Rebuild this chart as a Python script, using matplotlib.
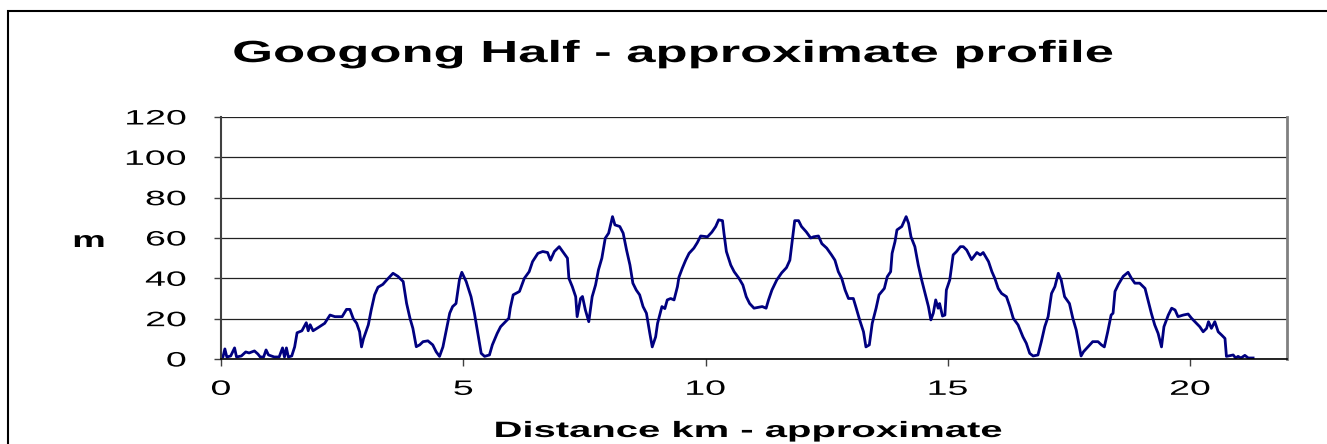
import numpy as np
import matplotlib
matplotlib.use("Agg")
import matplotlib.pyplot as plt
from matplotlib.patches import Rectangle
from matplotlib.patheffects import AbstractPathEffect
from matplotlib.transforms import Affine2D

plt.rcParams['font.family'] = ['Liberation Sans', 'DejaVu Sans']

# course profile
dist_km = [0.00, 0.04, 0.08, 0.12, 0.20, 0.28, 0.32, 0.42, 0.51, 0.58, 0.69, 0.76, 0.81, 0.88,
           0.93, 0.98, 1.10, 1.20, 1.27, 1.31, 1.35, 1.39, 1.46, 1.52, 1.57, 1.67, 1.76, 1.80,
           1.84, 1.90, 2.00, 2.14, 2.25, 2.35, 2.50, 2.59, 2.66, 2.73, 2.80, 2.86, 2.90, 2.94,
           3.04, 3.10, 3.17, 3.24, 3.34, 3.44, 3.55, 3.65, 3.76, 3.83, 3.90, 3.96, 4.03, 4.10,
           4.17, 4.27, 4.37, 4.44, 4.51, 4.58, 4.65, 4.72, 4.78, 4.85, 4.92, 4.97, 5.06, 5.16,
           5.23, 5.30, 5.37, 5.44, 5.54, 5.60, 5.70, 5.77, 5.87, 5.94, 5.97, 6.03, 6.16, 6.26,
           6.36, 6.43, 6.54, 6.64, 6.74, 6.80, 6.88, 6.98, 7.08, 7.15, 7.18, 7.25, 7.32, 7.35,
           7.42, 7.46, 7.52, 7.59, 7.66, 7.73, 7.79, 7.86, 7.93, 8.00, 8.08, 8.13, 8.23, 8.30,
           8.37, 8.44, 8.50, 8.57, 8.64, 8.71, 8.78, 8.85, 8.90, 8.97, 9.01, 9.10, 9.16, 9.21,
           9.28, 9.35, 9.42, 9.45, 9.52, 9.59, 9.66, 9.76, 9.83, 9.90, 10.04, 10.13, 10.21, 10.27,
           10.35, 10.38, 10.43, 10.52, 10.59, 10.69, 10.77, 10.84, 10.91, 11.00, 11.17, 11.25,
           11.30, 11.37, 11.47, 11.57, 11.67, 11.74, 11.79, 11.84, 11.92, 11.98, 12.08, 12.17,
           12.23, 12.33, 12.40, 12.50, 12.60, 12.67, 12.74, 12.81, 12.88, 12.95, 13.05, 13.11,
           13.18, 13.26, 13.31, 13.38, 13.44, 13.52, 13.58, 13.69, 13.75, 13.82, 13.85, 13.91,
           13.95, 14.05, 14.14, 14.19, 14.24, 14.32, 14.39, 14.46, 14.53, 14.60, 14.65, 14.70,
           14.75, 14.80, 14.83, 14.89, 14.94, 14.97, 15.04, 15.11, 15.18, 15.26, 15.32, 15.39,
           15.49, 15.60, 15.67, 15.73, 15.84, 15.91, 15.97, 16.04, 16.11, 16.21, 16.28, 16.35,
           16.45, 16.55, 16.62, 16.69, 16.76, 16.86, 16.93, 17.00, 17.07, 17.14, 17.21, 17.28,
           17.34, 17.41, 17.51, 17.58, 17.65, 17.70, 17.75, 17.80, 17.89, 17.99, 18.10, 18.17,
           18.23, 18.30, 18.37, 18.41, 18.45, 18.52, 18.62, 18.72, 18.79, 18.86, 18.96, 19.07,
           19.13, 19.20, 19.27, 19.34, 19.41, 19.46, 19.55, 19.62, 19.69, 19.75, 19.86, 19.96,
           20.03, 20.10, 20.20, 20.27, 20.34, 20.38, 20.44, 20.51, 20.58, 20.65, 20.72, 20.75,
           20.89, 20.94, 20.99, 21.05, 21.13, 21.20, 21.30]
elev_m = [1.0, 1.0, 5.0, 1.0, 1.5, 5.5, 1.0, 1.5, 3.5, 3.0, 4.0, 2.5, 1.0, 1.0,
          4.5, 2.0, 1.0, 1.0, 5.5, 1.0, 5.5, 1.0, 1.5, 6.0, 13.0, 14.0, 18.0, 14.0,
          17.0, 14.0, 15.5, 17.7, 21.8, 21.0, 21.0, 24.6, 24.6, 20.0, 17.7, 13.5, 6.0, 10.0,
          16.9, 24.3, 31.8, 35.6, 37.0, 39.7, 42.5, 41.0, 38.4, 27.6, 20.2, 15.2, 6.1, 7.0,
          8.6, 9.0, 7.0, 3.6, 1.3, 6.0, 14.4, 22.7, 26.0, 27.5, 39.2, 43.0, 38.4, 30.9,
          22.7, 12.7, 2.8, 1.3, 2.0, 7.0, 12.7, 16.0, 18.5, 20.2, 25.2, 31.8, 33.5, 40.0,
          43.3, 48.3, 52.4, 53.3, 52.8, 49.0, 53.3, 55.7, 52.4, 50.0, 40.0, 35.9, 30.9, 21.0,
          30.0, 31.0, 24.3, 18.5, 30.9, 36.7, 44.2, 50.0, 59.9, 62.4, 70.6, 66.5, 65.7, 62.4,
          54.0, 46.6, 37.6, 34.2, 31.8, 26.0, 22.7, 12.7, 6.0, 11.0, 17.7, 26.0, 25.0, 29.3,
          30.0, 29.3, 35.9, 40.5, 45.0, 49.0, 52.4, 55.0, 57.7, 61.0, 60.6, 62.9, 65.7, 69.0,
          68.6, 62.4, 53.3, 46.6, 43.3, 40.0, 36.7, 30.9, 27.5, 25.2, 26.0, 25.2,
          29.3, 34.2, 39.2, 42.7, 45.3, 49.0, 59.0, 68.6, 68.6, 65.7, 63.0, 60.0,
          60.6, 61.0, 57.2, 55.0, 51.6, 49.0, 43.3, 40.0, 34.2, 30.0, 30.0, 25.2,
          19.4, 13.5, 6.0, 7.0, 17.7, 25.2, 31.8, 35.0, 40.8, 43.3, 52.4, 58.2,
          64.0, 65.7, 70.6, 67.3, 60.6, 55.7, 46.6, 39.2, 32.5, 26.0, 19.4, 22.7,
          29.3, 25.2, 27.5, 21.3, 21.8, 34.2, 39.2, 51.6, 53.3, 55.7, 55.7, 54.0,
          49.3, 52.8, 51.6, 52.8, 48.3, 43.3, 40.0, 35.0, 32.5, 30.9, 26.0, 20.2,
          16.9, 11.0, 7.8, 2.8, 1.5, 2.0, 8.6, 16.0, 21.0, 32.5, 35.9, 42.5,
          39.2, 30.9, 27.5, 20.2, 14.4, 7.8, 1.5, 3.6, 6.0, 8.6, 8.6, 7.0,
          6.0, 13.5, 21.8, 22.7, 33.5, 37.0, 41.0, 43.0, 40.0, 37.6, 37.6, 35.0,
          29.3, 22.7, 16.9, 12.7, 6.0, 16.0, 21.8, 25.2, 24.3, 21.0, 21.8, 22.3,
          20.2, 18.5, 16.0, 13.5, 15.2, 18.5, 15.2, 18.5, 13.5, 11.9, 10.2, 1.3,
          2.0, 0.5, 1.3, 0.5, 1.8, 0.5, 0.5]
x_ticks = [0, 5, 10, 15, 20]
y_ticks = [0, 20, 40, 60, 80, 100, 120]


# the source image was stretched sideways, so the lettering is wide too
class Widen(AbstractPathEffect):
    def __init__(self, sx=1.8, anchor=0.5):
        super().__init__()
        self.sx = sx
        self.anchor = anchor

    def draw_path(self, renderer, gc, tpath, affine, rgbFace=None):
        ext = tpath.get_extents(affine)
        x0 = ext.x0 + self.anchor * ext.width
        affine = affine + Affine2D().translate(-x0, 0).scale(self.sx, 1).translate(x0, 0)
        renderer.draw_path(gc, tpath, affine, rgbFace)


W, H = 1327, 444
fig = plt.figure(figsize=(W / 100, H / 100), dpi=100)
ax = fig.add_axes([221 / W, 1 - 359 / H, 1066 / W, 242 / H])

# outer chart frame
fig.patches.append(Rectangle((8 / W, -0.05), 1.1, 1.05 - 11 / H, transform=fig.transFigure,
                             fill=False, edgecolor='black', linewidth=1.5))

ax.plot(dist_km, elev_m, color='#000080', linewidth=2.0)

ax.set_xlim(0, 22)
ax.set_ylim(0, 120)
ax.set_xticks(x_ticks)
ax.set_yticks(y_ticks)
ax.yaxis.grid(True, color='#222222', linewidth=0.9)
ax.set_axisbelow(True)

ax.spines['top'].set_visible(False)
ax.spines['left'].set_color('#404040')
ax.spines['left'].set_linewidth(1.5)
ax.spines['bottom'].set_color('black')
ax.spines['bottom'].set_linewidth(1.2)
ax.spines['right'].set_color('#808080')
ax.spines['right'].set_linewidth(2)

ax.tick_params(axis='both', direction='out', length=5, width=1, color='#404040', labelsize=15)
ax.tick_params(axis='y', pad=20)
ax.tick_params(axis='x', pad=10)

for lbl in ax.get_yticklabels():
    lbl.set_path_effects([Widen(1.8, 1.0)])
for lbl in ax.get_xticklabels():
    lbl.set_path_effects([Widen(1.8, 0.5)])

fig.text(673 / W, 1 - 62 / H, 'Googong Half - approximate profile', ha='center', va='baseline',
         fontsize=22, fontweight='bold', path_effects=[Widen(1.72)])
fig.text(748 / W, 1 - 437 / H, 'Distance km - approximate', ha='center', va='baseline',
         fontsize=16, fontweight='bold', path_effects=[Widen(1.8)])
fig.text(89 / W, 1 - 247 / H, 'm', ha='center', va='baseline',
         fontsize=16, fontweight='bold', path_effects=[Widen(1.7)])

fig.savefig('out.png', dpi=100)
